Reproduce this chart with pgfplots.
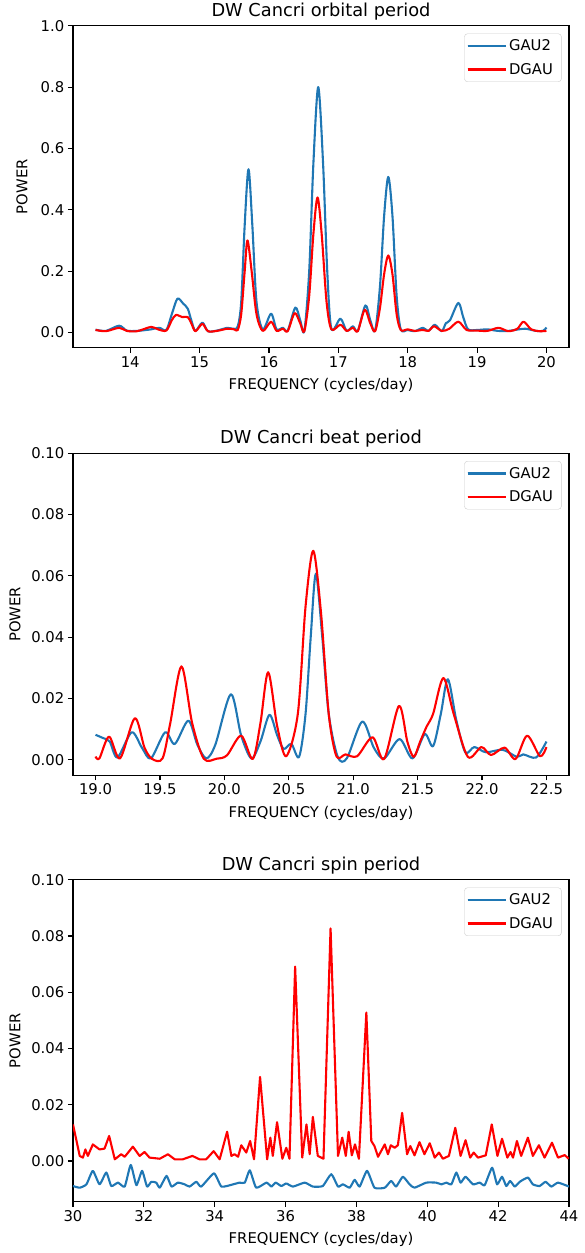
\documentclass[border=0pt]{standalone}
\usepackage{fontspec}
\setmainfont{DejaVu Sans}
\usepackage{pgfplots}
\pgfplotsset{compat=1.18}
\definecolor{mplblue}{HTML}{1F77B4}
\definecolor{mplred}{HTML}{FF0000}
\pgfplotsset{
  mpl/.style={
    scale only axis, width=496pt, height=322pt,
    axis line style={line width=1.1pt},
    every tick/.style={black, line width=1.1pt},
    tick align=outside, tick pos=left,
    major tick length=5.2pt,
    tick label style={font=\fontsize{14.8}{17}\selectfont},
    every axis title/.style={at={(0.5,1)}, anchor=base, yshift=9.5pt, font=\fontsize{17.8}{21}\selectfont},
    every axis x label/.style={at={(axis description cs:0.5,-0.1304)}, anchor=base, font=\fontsize{14.8}{17}\selectfont},
    every axis y label/.style={at={(axis description cs:-0.0919,0.5)}, anchor=base, rotate=90, font=\fontsize{14.8}{17}\selectfont},
    /pgf/number format/assume math mode=true,
    legend style={at={(1,1)}, anchor=north east, xshift=-7.4pt, yshift=-7.8pt,
      draw=black!20, rounded corners=3pt, font=\fontsize{14.8}{17}\selectfont,
      inner xsep=2pt, inner ysep=4pt, row sep=7pt,
      nodes={inner xsep=2.5pt, inner ysep=2pt}},
    legend cell align=left,
    legend image code/.code={\draw[##1] (0pt,0pt) -- (30pt,0pt); \path (0pt,0pt) -- (38pt,0pt);},
    xlabel={FREQUENCY (cycles/day)}, ylabel={POWER},
  },
  bl/.style={color=mplblue, line width=2.1pt, line join=round},
  rd/.style={color=mplred, line width=2.1pt, line join=round},
}
\begin{document}
\begin{tikzpicture}
\useasboundingbox (-73pt,25.75pt) rectangle (512pt,-1227.25pt);
% ---------------- orbital
\begin{axis}[mpl, at={(0,0)}, anchor=north west,
  title={DW Cancri orbital period},
  xmin=13.175, xmax=20.325, ymin=-0.05, ymax=1.0,
  xtick={14,15,...,20}, ytick={0,0.2,0.4,0.6,0.8,1.0},
  yticklabel style={/pgf/number format/.cd, fixed, fixed zerofill, precision=1},
]
\addplot[bl, smooth, tension=0.5] coordinates {
(13.50,0.009) (13.65,0.005) (13.84,0.022) (13.95,0.006) (14.10,0.005) (14.30,0.010)
(14.42,0.015) (14.52,0.008) (14.60,0.060) (14.68,0.110) (14.76,0.095) (14.83,0.077)
(14.88,0.040) (14.94,0.005) (15.04,0.032) (15.12,0.004) (15.25,0.006) (15.40,0.015)
(15.48,0.012) (15.55,0.020) (15.60,0.100) (15.65,0.350) (15.705,0.532) (15.76,0.350)
(15.82,0.100) (15.91,0.010) (16.03,0.061) (16.11,0.010) (16.20,0.015) (16.27,0.006)
(16.38,0.081) (16.45,0.040) (16.51,0.005) (16.58,0.200) (16.64,0.550) (16.71,0.800)
(16.78,0.550) (16.84,0.200) (16.90,0.012) (17.03,0.045) (17.12,0.005) (17.21,0.020)
(17.28,0.005) (17.39,0.088) (17.46,0.040) (17.53,0.006) (17.60,0.150) (17.66,0.380)
(17.72,0.507) (17.78,0.380) (17.84,0.120) (17.90,0.010) (18.00,0.008) (18.10,0.004)
(18.22,0.015) (18.30,0.005) (18.39,0.025) (18.49,0.004) (18.55,0.030) (18.61,0.040)
(18.73,0.096) (18.80,0.050) (18.87,0.010) (19.00,0.008) (19.15,0.010) (19.30,0.005)
(19.45,0.005) (19.60,0.010) (19.70,0.012) (19.85,0.005) (19.95,0.005) (20.00,0.016)
};
\addlegendentry{GAU2\hspace*{4pt}}
\addplot[rd, smooth, tension=0.5] coordinates {
(13.50,0.008) (13.65,0.004) (13.84,0.015) (13.95,0.005) (14.10,0.004) (14.30,0.018)
(14.40,0.010) (14.52,0.006) (14.60,0.040) (14.66,0.057) (14.75,0.050) (14.83,0.050)
(14.88,0.030) (14.94,0.004) (15.04,0.028) (15.12,0.004) (15.25,0.005) (15.40,0.012)
(15.50,0.010) (15.55,0.008) (15.60,0.060) (15.65,0.200) (15.69,0.300) (15.75,0.200)
(15.82,0.060) (15.91,0.005) (16.03,0.035) (16.11,0.005) (16.20,0.012) (16.27,0.004)
(16.37,0.063) (16.45,0.030) (16.51,0.004) (16.58,0.120) (16.64,0.320) (16.70,0.440)
(16.76,0.320) (16.83,0.100) (16.90,0.010) (17.03,0.025) (17.12,0.005) (17.21,0.015)
(17.28,0.004) (17.38,0.074) (17.46,0.030) (17.53,0.004) (17.60,0.080) (17.66,0.190)
(17.72,0.251) (17.78,0.190) (17.84,0.060) (17.90,0.008) (18.00,0.010) (18.10,0.005)
(18.22,0.008) (18.30,0.005) (18.38,0.020) (18.49,0.005) (18.60,0.012) (18.73,0.035)
(18.85,0.008) (19.00,0.006) (19.15,0.005) (19.31,0.015) (19.45,0.004) (19.58,0.012)
(19.67,0.035) (19.78,0.010) (19.90,0.004) (20.00,0.005)
};
\addlegendentry{DGAU\hspace*{4pt}}
\end{axis}
% ---------------- beat
\begin{axis}[mpl, at={(0,-427.5pt)}, anchor=north west,
  title={DW Cancri beat period},
  every axis y label/.append style={at={(axis description cs:-0.106,0.5)}},
  xmin=18.825, xmax=22.675, ymin=-0.005, ymax=0.1,
  xtick={19,19.5,...,22.5}, ytick={0,0.02,0.04,0.06,0.08,0.10},
  xticklabel style={/pgf/number format/.cd, fixed, fixed zerofill, precision=1},
  yticklabel style={/pgf/number format/.cd, fixed, fixed zerofill, precision=2},
]
\addplot[bl, smooth, tension=0.5] coordinates {
(19.00,0.0082) (19.06,0.0071) (19.11,0.0060) (19.17,0.0008) (19.28,0.0090) (19.36,0.0040)
(19.43,0.0005) (19.54,0.0090) (19.615,0.0052) (19.72,0.0128) (19.79,0.0050) (19.86,0.0005)
(19.93,0.0050) (20.05,0.0214) (20.13,0.0080) (20.21,0.0005) (20.28,0.0060) (20.35,0.0147)
(20.41,0.0080) (20.46,0.0036) (20.52,0.0052) (20.58,0.0010) (20.63,0.0150) (20.67,0.0400)
(20.71,0.0607) (20.76,0.0400) (20.81,0.0150) (20.88,0.0010) (20.95,0.0005) (21.07,0.0125)
(21.16,0.0040) (21.24,0.0005) (21.36,0.0068) (21.46,0.0005) (21.555,0.0084) (21.62,0.0045)
(21.68,0.0150) (21.735,0.0263) (21.80,0.0130) (21.87,0.0025) (21.94,0.0042) (22.03,0.0025)
(22.16,0.0033) (22.27,0.0010) (22.32,0.0018) (22.42,0.0008) (22.50,0.0060)
};
\addlegendentry{GAU2\hspace*{4pt}}
\addplot[rd, smooth, tension=0.5] coordinates {
(19.00,0.0011) (19.03,0.0005) (19.105,0.0076) (19.19,0.0005) (19.305,0.0136) (19.38,0.0040)
(19.44,0.0003) (19.52,0.0005) (19.58,0.0120) (19.667,0.0305) (19.75,0.0120) (19.84,0.0004)
(19.94,0.0004) (20.02,0.0015) (20.13,0.0079) (20.22,0.0003) (20.28,0.0120) (20.34,0.0286)
(20.41,0.0110) (20.48,0.0012) (20.57,0.0150) (20.63,0.0500) (20.69,0.0682) (20.75,0.0480)
(20.81,0.0150) (20.87,0.0012) (20.94,0.0018) (21.03,0.0012) (21.15,0.0074) (21.24,0.0003)
(21.355,0.0176) (21.42,0.0060) (21.47,0.0010) (21.52,0.0060) (21.57,0.0109) (21.62,0.0150)
(21.70,0.0267) (21.78,0.0150) (21.89,0.0010) (21.995,0.0042) (22.07,0.0016) (22.175,0.0040)
(22.26,0.0003) (22.35,0.0079) (22.45,0.0012) (22.50,0.0042)
};
\addlegendentry{DGAU\hspace*{4pt}}
\end{axis}
% ---------------- spin
\begin{axis}[mpl, at={(0,-854pt)}, anchor=north west,
  title={DW Cancri spin period},
  every axis y label/.append style={at={(axis description cs:-0.106,0.5)}},
  xmin=30, xmax=44, ymin=-0.0145, ymax=0.1,
  xtick={30,32,...,44}, ytick={0,0.02,0.04,0.06,0.08,0.10},
  yticklabel style={/pgf/number format/.cd, fixed, fixed zerofill, precision=2},
]
\addplot[bl, smooth, tension=0.3] coordinates {
(30.00,-0.0089) (30.19,-0.0095) (30.38,-0.0083) (30.56,-0.0035) (30.75,-0.0083) (30.94,-0.0041)
(31.08,-0.0089) (31.27,-0.0077) (31.46,-0.0091) (31.63,-0.0014) (31.79,-0.0086) (31.95,-0.0035)
(32.09,-0.0091) (32.21,-0.0074) (32.35,-0.0077) (32.45,-0.0095) (32.64,-0.0053) (32.78,-0.0091)
(32.96,-0.0077) (33.15,-0.0083) (33.29,-0.0091) (33.48,-0.0074) (33.62,-0.0091) (33.98,-0.0044)
(34.19,-0.0091) (34.52,-0.0083) (34.70,-0.0077) (34.85,-0.0077) (34.99,-0.0033) (35.17,-0.0095)
(35.46,-0.0077) (35.60,-0.0091) (35.72,-0.0077) (35.88,-0.0089) (36.02,-0.0080) (36.21,-0.0091)
(36.54,-0.0077) (36.77,-0.0091) (37.05,-0.0089) (37.29,-0.0047) (37.48,-0.0091) (37.62,-0.0083)
(37.81,-0.0095) (37.95,-0.0067) (38.09,-0.0091) (38.30,-0.0035) (38.51,-0.0095) (38.80,-0.0095)
(38.98,-0.0071) (39.12,-0.0091) (39.31,-0.0056) (39.50,-0.0083) (39.64,-0.0095) (39.97,-0.0077)
(40.25,-0.0077) (40.40,-0.0083) (40.54,-0.0077) (40.68,-0.0083) (40.82,-0.0041) (40.94,-0.0077)
(41.08,-0.0056) (41.29,-0.0083) (41.48,-0.0077) (41.62,-0.0086) (41.83,-0.0024) (41.97,-0.0083)
(42.11,-0.0056) (42.23,-0.0089) (42.34,-0.0071) (42.47,-0.0091) (42.61,-0.0074) (42.84,-0.0059)
(42.98,-0.0083) (43.17,-0.0089) (43.34,-0.0074) (43.50,-0.0091) (43.69,-0.0077) (44.00,-0.0091)
};
\addlegendentry{GAU2\hspace*{4pt}}
\addplot[rd] coordinates {
(30.00,0.0130) (30.19,0.0018) (30.28,0.0012) (30.35,0.0041) (30.42,0.0018) (30.56,0.0059)
(30.75,0.0041) (30.89,0.0044) (31.02,0.0089) (31.18,0.0006) (31.36,0.0024) (31.46,0.0015)
(31.69,0.0051) (31.88,0.0018) (32.02,0.0032) (32.16,0.0012) (32.45,0.0008) (32.68,0.0024)
(32.87,0.0006) (33.10,0.0006) (33.37,0.0018) (33.57,0.0006) (33.76,0.0006) (33.97,0.0035)
(34.14,0.0006) (34.35,0.0104) (34.47,0.0018) (34.56,0.0024) (34.66,0.0015) (34.75,0.0056)
(34.89,0.0030) (35.00,0.0071) (35.11,0.0006) (35.28,0.0299) (35.48,0.0006) (35.57,0.0083)
(35.64,0.0018) (35.76,0.0138) (35.91,0.0008) (36.02,0.0047) (36.11,0.0008) (36.27,0.0691)
(36.47,0.0012) (36.59,0.0130) (36.68,0.0024) (36.77,0.0157) (36.91,0.0018) (37.07,0.0008)
(37.27,0.0827) (37.48,0.0018) (37.60,0.0083) (37.70,0.0018) (37.78,0.0104) (37.87,0.0020)
(37.96,0.0059) (38.07,0.0008) (38.28,0.0528) (38.42,0.0071) (38.51,0.0053) (38.61,0.0015)
(38.80,0.0059) (38.89,0.0024) (38.97,0.0056) (39.08,0.0047) (39.17,0.0056) (39.29,0.0171)
(39.43,0.0024) (39.52,0.0053) (39.64,0.0020) (39.78,0.0067) (39.92,0.0024) (40.07,0.0063)
(40.21,0.0012) (40.33,0.0030) (40.44,0.0008) (40.61,0.0018) (40.79,0.0118) (40.94,0.0018)
(41.08,0.0074) (41.21,0.0012) (41.31,0.0030) (41.43,0.0012) (41.65,0.0020) (41.82,0.0130)
(41.98,0.0018) (42.11,0.0079) (42.26,0.0012) (42.35,0.0032) (42.42,0.0012) (42.53,0.0071)
(42.65,0.0018) (42.84,0.0083) (42.98,0.0018) (43.15,0.0056) (43.31,0.0012) (43.52,0.0065)
(43.69,0.0012) (43.88,0.0021) (43.99,0.0008)
};
\addlegendentry{DGAU\hspace*{4pt}}
\end{axis}
\end{tikzpicture}
\end{document}
